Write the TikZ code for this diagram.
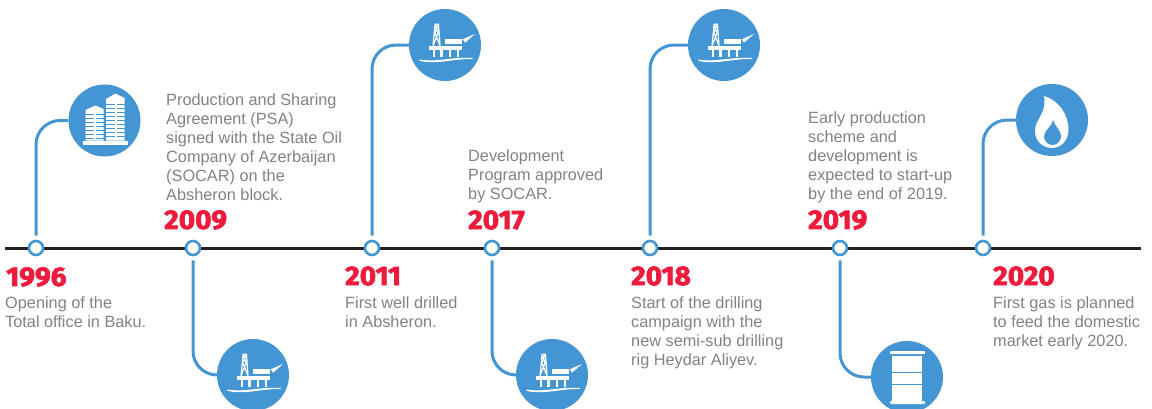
\documentclass[tikz,border=0pt]{standalone}
\usepackage{fontspec}
\setmainfont{Liberation Sans}
\newfontfamily\yearfont[FakeBold=2.5,FakeStretch=1.04]{Fira Sans Bold}
\usetikzlibrary{calc}
\definecolor{tlblue}{HTML}{4396D3}
\definecolor{tlred}{HTML}{ED1B3C}
\definecolor{tlgrey}{HTML}{808285}
\definecolor{tlblack}{HTML}{231F20}
\tikzset{
  x=1pt,y=-1pt,
  dot/.style={circle,draw=tlblue,line width=2.6pt,fill=white,minimum size=14pt,inner sep=0pt},
  badge/.style={circle,fill=tlblue,minimum size=72pt,inner sep=0pt},
  conn/.style={draw=tlblue,line width=3pt,rounded corners=24pt,shorten <=4pt},
  year/.style={text=tlred,anchor=west,inner sep=0pt,font=\yearfont\fontsize{27}{28}\selectfont},
  desc/.style={text=tlgrey,anchor=north west,inner sep=0pt,align=left,font=\fontsize{16.3}{19}\selectfont},
  rig/.pic={
    \fill[white] (-15.7,0.7) rectangle (16.7,5);
    \foreach \lx in {-11,-3.5,5,13} \fill[white] (\lx-1.4,5) rectangle (\lx+1.4,12);
    \draw[white,line width=1.2pt] (-12,0.7) -- (-9.9,-20.7) -- (-6.5,-20.7) -- (-5,0.7)
      (-12,0.7) -- (-6.9,-12) -- (-9.5,-20) (-5,0.7) -- (-10.1,-12) -- (-7,-20);
    \fill[white] (0,-5.7) rectangle (16.7,-1);
    \fill[white] (17.7,-5.7) -- (30,-11) -- (20,-2.3) -- cycle;
    \fill[white] (-25.7,14.5) .. controls (-8,17.5) and (8,11.5) .. (27.7,13)
      .. controls (27.7,13.5) and (27.7,14) .. (27.7,14)
      .. controls (8,13.5) and (-8,20) .. (-25.7,15.8) -- cycle;
  },
  tower/.pic={
    \fill[white] (-22,20) rectangle (23,24);
    \fill[white] (-19,-10.5) -- (-9,-15) -- (-1,-11.5) -- (-1,20) -- (-19,20) -- cycle;
    \fill[white] (1.5,-21.5) -- (11,-27) -- (20,-22.5) -- (20,20) -- (1.5,20) -- cycle;
    \foreach \ry in {-6,-2,...,18} {
      \draw[tlblue,line width=0.9pt] (-19,\ry) -- (-11,\ry) (-9,\ry) -- (-1,\ry);
    }
    \foreach \ry in {-16,-12,...,18} {
      \draw[tlblue,line width=0.9pt] (1.5,\ry) -- (10,\ry) (12,\ry) -- (20,\ry);
    }
  },
  barrel/.pic={
    \fill[white,rounded corners=1pt] (-17,-26) rectangle (18,-23);
    \fill[white] (-15,-21) rectangle (15,25);
    \fill[white,rounded corners=1pt] (-17,24) rectangle (18,27);
    \draw[tlblue,line width=0.9pt] (-15,-4.5) -- (15,-4.5) (-15,7.5) -- (15,7.5);
  },
  flame/.pic={
    \fill[white] (-8,-24) .. controls (6,-20) and (16.5,-6) .. (16.5,10)
      .. controls (16.5,21) and (8,28) .. (0,28)
      .. controls (-9,28) and (-17,21) .. (-17,11)
      .. controls (-17,-1) and (-5,-6) .. (-8,-24) -- cycle;
    \fill[tlblue] (1,0) .. controls (3,7) and (9,10) .. (9,16)
      .. controls (9,21) and (5,25) .. (0.5,25)
      .. controls (-4,25) and (-8,21) .. (-8,16.5)
      .. controls (-8,10) and (0,7) .. (1,0) -- cycle;
  }
}
\begin{document}
\begin{tikzpicture}
\useasboundingbox (0,0) rectangle (1152,408);
\clip (0,0) rectangle (1152,408);
\coordinate (ls) at (5,248);
\coordinate (le) at (1141,248);
\draw[tlblack,line width=3pt] (ls) -- (le);
% dots
\node[dot] (d96) at (36,248) {};
\node[dot] (d09) at (193,248) {};
\node[dot] (d11) at (372,248) {};
\node[dot] (d17) at (492,248) {};
\node[dot] (d18) at (650,248) {};
\node[dot] (d19) at (840,248) {};
\node[dot] (d20) at (983,248) {};
% badges
\node[badge] (b96) at (104.5,120.5) {};
\node[badge] (b09) at (253,375) {};
\node[badge] (b11) at (445,45) {};
\node[badge] (b17) at (552,375) {};
\node[badge] (b18) at (724,45) {};
\node[badge] (b19) at (907,377) {};
\node[badge] (b20) at (1052,120) {};
% connectors
\draw[conn] (d96.north) |- (b96.west);
\draw[conn] (d09.south) |- (b09.west);
\draw[conn] (d11.north) |- (b11.west);
\draw[conn] (d17.south) |- (b17.west);
\draw[conn] (d18.north) |- (b18.west);
\draw[conn] (d19.south) |- (b19.west);
\draw[conn] (d20.north) |- (b20.west);
% icons
\pic at (b96.center) {tower};
\pic at (b09.center) {rig};
\pic at (b11.center) {rig};
\pic at (b17.center) {rig};
\pic at (b18.center) {rig};
\pic at (b19.center) {barrel};
\pic at (b20.center) {flame};
% years
\node[year] (y96) at (6,277) {1996};
\node[year] (y09) at (164,220) {2009};
\node[year] (y11) at (345,276) {2011};
\node[year] (y17) at (468,220) {2017};
\node[year] (y18) at (631,276) {2018};
\node[year] (y19) at (808,220) {2019};
\node[year] (y20) at (993,276) {2020};
% descriptions
\node[desc] (t96) at (5,296.5) {Opening of the\\Total office in Baku.};
\node[desc] (t09) at (166,93.5) {Production and Sharing\\Agreement (PSA)\\signed with the State Oil\\Company of Azerbaijan\\(SOCAR) on the\\Absheron block.};
\node[desc] (t11) at (345,296.5) {First well drilled\\in Absheron.};
\node[desc] (t17) at (468,149.5) {Development\\Program approved\\by SOCAR.};
\node[desc] (t18) at (631,296.5) {Start of the drilling\\campaign with the\\new semi-sub drilling\\rig Heydar Aliyev.};
\node[desc] (t19) at (808,111.5) {Early production\\scheme and\\development is\\expected to start-up\\by the end of 2019.};
\node[desc] (t20) at (993,296.5) {First gas is planned\\to feed the domestic\\market early 2020.};
\end{tikzpicture}
\end{document}
